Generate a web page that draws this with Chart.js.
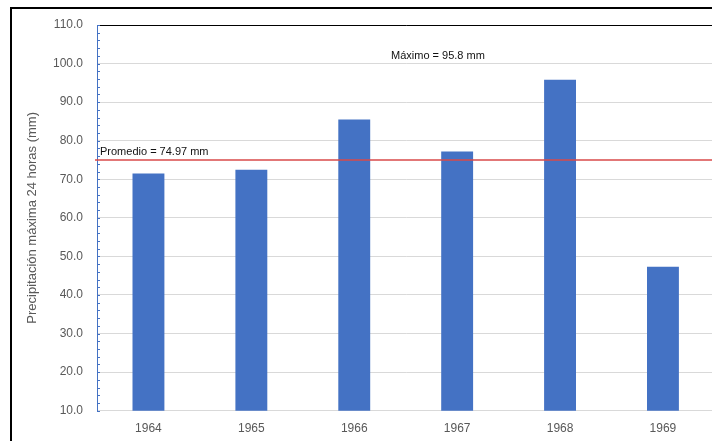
<!DOCTYPE html>
<html>
<head>
<meta charset="utf-8">
<script src="https://cdn.jsdelivr.net/npm/chart.js@4.4.1/dist/chart.umd.min.js"></script>
<style>
  html, body { margin: 0; padding: 0; background: #fff; overflow: hidden; width: 712px; height: 441px; }
  #frame { position: absolute; left: 10px; top: 7px; width: 720px; height: 450px; border-left: 2px solid #000; border-top: 2px solid #000; }
  #wrap { position: absolute; left: 0; top: 0; width: 720px; height: 441px; }
</style>
</head>
<body>
<div id="frame"></div>
<div id="wrap"><canvas id="c"></canvas></div>
<script>
// Annual maximum 24-hour precipitation (mm)
const years = ['1964', '1965', '1966', '1967', '1968', '1969'];
const precipitation = [71.5, 72.5, 85.5, 77.2, 95.8, 47.3];
const promedio = 74.97;
const maximo = 95.8;
const yTicks = [10, 20, 30, 40, 50, 60, 70, 80, 90, 100, 110];

const FONT = "'Liberation Sans', Arial, sans-serif";
const BLUE = '#4472c4';

// Reference line for the mean, minor ticks on the value axis, and notes
const overlay = {
  id: 'overlay',
  afterDatasetsDraw(chart) {
    const { ctx, chartArea } = chart;
    const y = chart.scales.y;
    ctx.save();

    // minor ticks every 2 mm, pointing into the plot
    ctx.strokeStyle = BLUE;
    ctx.lineWidth = 1;
    for (let v = yTicks[0]; v <= yTicks[yTicks.length - 1]; v += 2) {
      const py = Math.round(y.getPixelForValue(v)) + 0.5;
      ctx.beginPath();
      ctx.moveTo(chartArea.left, py);
      ctx.lineTo(chartArea.left + 3, py);
      ctx.stroke();
    }

    // mean line
    const py = y.getPixelForValue(promedio);
    ctx.strokeStyle = '#d94a4a';
    ctx.lineWidth = 1.5;
    ctx.beginPath();
    ctx.moveTo(chartArea.left - 2, py);
    ctx.lineTo(chartArea.right, py);
    ctx.stroke();

    ctx.fillStyle = '#111';
    ctx.font = '11px ' + FONT;
    ctx.textBaseline = 'middle';
    ctx.textAlign = 'left';
    ctx.fillText('Promedio = ' + promedio.toFixed(2) + ' mm', chartArea.left + 3, py - 8);

    const my = y.getPixelForValue(maximo);
    ctx.fillText('Máximo = ' + maximo.toFixed(1) + ' mm', chartArea.left + 294, my - 24);
    ctx.restore();
  }
};

new Chart(document.getElementById('c'), {
  type: 'bar',
  data: {
    labels: years,
    datasets: [{
      data: precipitation,
      backgroundColor: BLUE,
      borderWidth: 0,
      categoryPercentage: 1,
      barPercentage: 0.31
    }]
  },
  options: {
    responsive: true,
    maintainAspectRatio: false,
    animation: false,
    layout: { padding: { left: 25, right: 5.6, top: 25, bottom: 0 } },
    plugins: { legend: { display: false }, tooltip: { enabled: false } },
    scales: {
      x: {
        grid: { display: false, drawTicks: false },
        border: { color: '#d9d9d9' },
        ticks: { color: '#595959', font: { family: FONT, size: 12 }, padding: 11 },
        afterFit(scale) { scale.height = 30.3; }
      },
      y: {
        min: 10,
        max: 110,
        afterBuildTicks(scale) { scale.ticks = yTicks.map(v => ({ value: v })); },
        ticks: {
          color: '#595959',
          font: { family: FONT, size: 12 },
          padding: 14,
          callback: v => Number(v).toFixed(1)
        },
        grid: {
          drawTicks: false,
          color: ctx => (ctx.tick && ctx.tick.value === 110 ? '#000' : '#d9d9d9')
        },
        border: { color: BLUE },
        title: {
          display: true,
          text: 'Precipitación máxima 24 horas (mm)',
          color: '#595959',
          font: { family: FONT, size: 13 },
          padding: { top: 0, bottom: 0 }
        },
        afterFit(scale) { scale.width = 72; }
      }
    }
  },
  plugins: [overlay]
});
</script>
</body>
</html>
